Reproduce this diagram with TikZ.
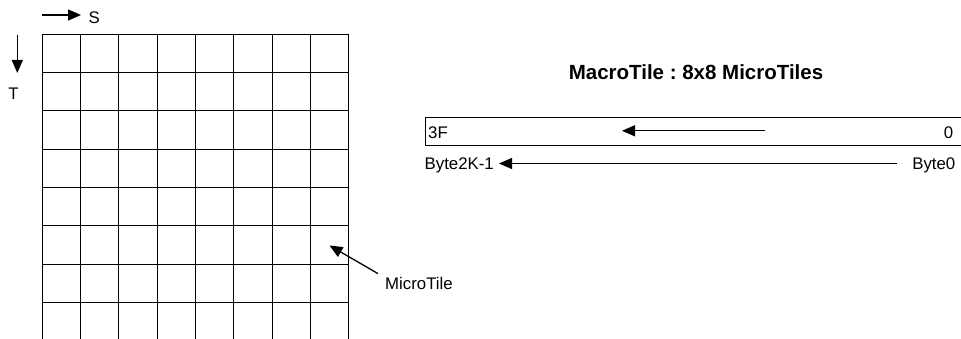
\documentclass[tikz,border=0pt]{standalone}
\usepackage{fontspec}
\setmainfont{Liberation Sans}
\usetikzlibrary{arrows.meta}
\begin{document}
\begin{tikzpicture}[x=1pt,y=-1pt,
  lbl/.style={inner sep=0pt,font=\fontsize{16.8}{18}\selectfont},
  ttl/.style={inner sep=0pt,font=\fontsize{20.5}{23}\selectfont\bfseries\frenchspacing},
  arr/.style={line width=1.3pt,-{Triangle[length=13pt,width=11pt]}},
  gridline/.style={line width=1pt}]
\useasboundingbox (0,0) rectangle (961,339);
% grid
\foreach \i in {0,...,8}{
  \draw[gridline] ({42.3+38.33*\i},34.3) -- ({42.3+38.33*\i},339);
}
\foreach \j in {0,...,7}{
  \draw[gridline] (42.3,{34.3+38.33*\j}) -- (349,{34.3+38.33*\j});
}
% S and T
\coordinate (s0) at (42,15);
\coordinate (s1) at (81,15);
\draw[arr] (s0) -- (s1);
\node[lbl,anchor=base west] (S) at (88.5,23.3) {S};
\coordinate (t0) at (17.3,35.5);
\coordinate (t1) at (17.3,73);
\draw[arr] (t0) -- (t1);
\node[lbl,anchor=base] (T) at (13.5,100) {T};
% MicroTile
\node[lbl,anchor=base west] (mt) at (385,289) {MicroTile};
\coordinate (mtt) at (329.5,245.5);
\draw[arr] (mt.north west) ++(-7,-3) coordinate (mtf) (mtf) -- (mtt);
% title
\node[ttl,anchor=base] (title) at (696,80) {MacroTile : 8x8 MicroTiles};
% box
\draw[line width=1pt] (961,117.7) -- (425,117.7) -- (425,145.3) -- (961,145.3);
\node[lbl,anchor=base west] (f3) at (428,138.3) {3F};
\node[lbl,anchor=base east] (z0) at (953.5,138.3) {0};
\coordinate (a0) at (765,130.8);
\coordinate (a1) at (622,130.8);
\draw[arr] (a0) -- (a1);
% byte arrow
\node[lbl,anchor=base west] (b2k) at (424.5,169.5) {Byte2K-1};
\node[lbl,anchor=base east] (b0) at (955.5,169.5) {Byte0};
\draw[arr] (b0.west |- 0,163.5) ++(-15,0) coordinate (bt) (bt) -- ([xshift=5pt]b2k.east |- bt);
\end{tikzpicture}
\end{document}
